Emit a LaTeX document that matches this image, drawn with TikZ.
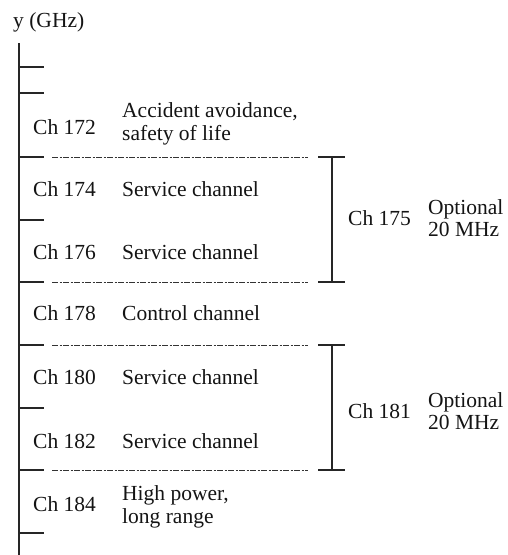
\documentclass[tikz,border=0pt]{standalone}
\usepackage{fontspec}
\setmainfont{Liberation Serif}
\begin{document}
\begin{tikzpicture}[x=1pt,y=-1pt,
  axisline/.style={line width=1.4pt, draw=black!85},
  sepline/.style={line width=0.9pt, draw=black!80, dash pattern=on 6pt off 1.5pt on 2pt off 1.5pt},
  bracket/.style={line width=1.2pt, draw=black!85},
  lbl/.style={anchor=west, inner sep=0pt, font=\fontsize{21.5}{22.5}\selectfont, text=black!92},
  desc/.style={lbl, align=left},
]
\useasboundingbox (0,0) rectangle (508,555);

% frequency axis
\node[lbl] (title) at (13,22) {y (GHz)};
\coordinate (axtop) at (19,43);
\coordinate (axbot) at (19,555);
\draw[axisline] (axtop) -- (axbot);

% tick positions on the axis
\foreach \n/\y in {t1/67, t2/93, t3/157, t4/220, t5/282, t6/345, t7/408, t8/470, t9/533} {
  \coordinate (\n) at (19,\y);
  \coordinate (\n e) at (44,\y);
  \draw[axisline] (\n) -- (\n e);
}

% dashed channel separators
\foreach \n in {t3, t5, t6, t8} {
  \coordinate (\n a) at (52,0 |- \n);
  \coordinate (\n b) at (308,0 |- \n);
  \draw[sepline] (\n a) -- (\n b);
}

% brackets for the combined 20 MHz channels
\foreach \a/\b in {t3/t5, t6/t8} {
  \coordinate (\a l) at (318,0 |- \a);
  \coordinate (\a r) at (345,0 |- \a);
  \coordinate (\a m) at (332,0 |- \a);
  \coordinate (\b l) at (318,0 |- \b);
  \coordinate (\b r) at (345,0 |- \b);
  \coordinate (\b m) at (332,0 |- \b);
  \draw[bracket] (\a l) -- (\a r);
  \draw[bracket] (\b l) -- (\b r);
  \draw[bracket] (\a m) -- (\b m);
}

% channel numbers
\node[lbl] (c172) at (33,127) {Ch 172};
\node[lbl] (c174) at (33,189) {Ch 174};
\node[lbl] (c176) at (33,252) {Ch 176};
\node[lbl] (c178) at (33,313) {Ch 178};
\node[lbl] (c180) at (33,377) {Ch 180};
\node[lbl] (c182) at (33,441) {Ch 182};
\node[lbl] (c184) at (33,504) {Ch 184};

% channel uses
\node[desc] (d172) at (122,124) {Accident avoidance,\\safety of life};
\node[desc] (d174) at (122,189) {Service channel};
\node[desc] (d176) at (122,252) {Service channel};
\node[desc] (d178) at (122,313) {Control channel};
\node[desc] (d180) at (122,377) {Service channel};
\node[desc] (d182) at (122,441) {Service channel};
\node[desc] (d184) at (122,507) {High power,\\long range};

% combined channels
\node[lbl] (c175) at (348,218) {Ch 175};
\node[desc] (o175) at (428,218) {Optional\\20 MHz};
\node[lbl] (c181) at (348,411) {Ch 181};
\node[desc] (o181) at (428,411) {Optional\\20 MHz};
\end{tikzpicture}
\end{document}
